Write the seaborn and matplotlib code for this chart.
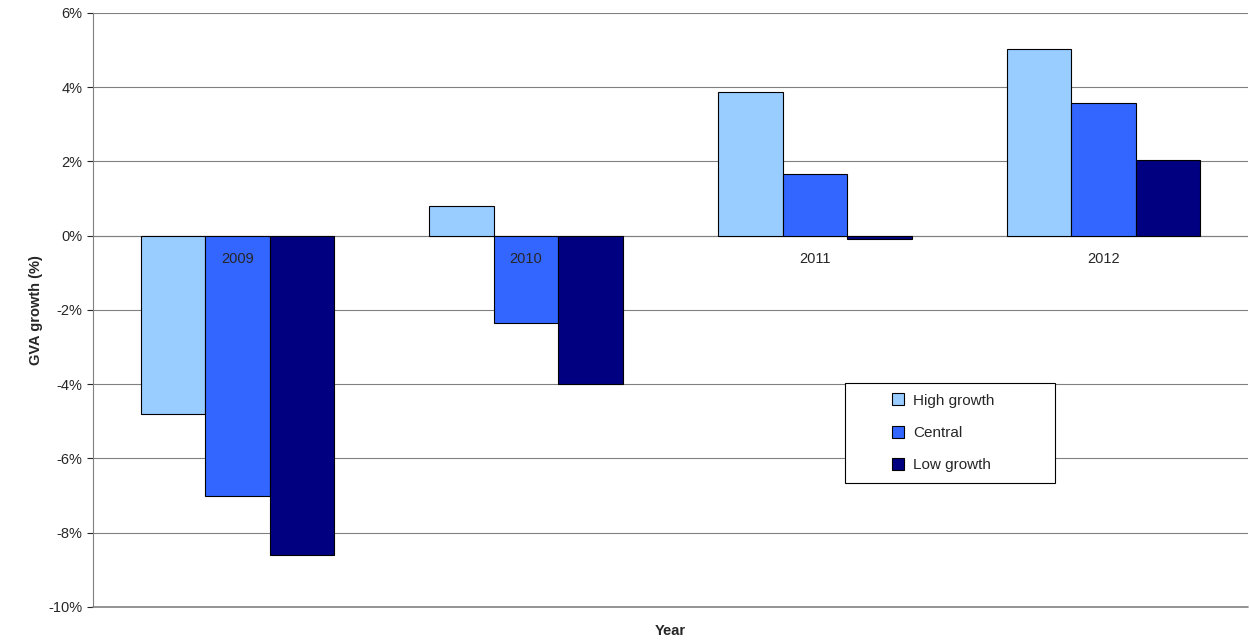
import pandas as pd
import matplotlib.pyplot as plt
import seaborn as sns
from matplotlib.ticker import FuncFormatter
from matplotlib.patches import Rectangle

# Values
years = ['2009', '2010', '2011', '2012']
scenarios = ['High growth', 'Central', 'Low growth']
high_growth = [-4.8, 0.8, 3.88, 5.04]
central = [-7.0, -2.35, 1.65, 3.58]
low_growth = [-8.6, -4.0, -0.08, 2.05]
colors = ['#99CCFF', '#3366FF', '#000080']

df = pd.DataFrame({
    'Year': years * 3,
    'Scenario': [s for s in scenarios for _ in years],
    'Growth': high_growth + central + low_growth,
})

sns.set_style('white')
plt.rcParams['font.family'] = ['Liberation Sans', 'DejaVu Sans']

fig = plt.figure(figsize=(12.5, 6.43), dpi=100)
ax = fig.add_axes([0.0744, 0.056, 0.924, 0.924])

sns.barplot(data=df, x='Year', y='Growth', hue='Scenario', palette=colors,
            width=0.67, edgecolor='black', linewidth=0.8, saturation=1, ax=ax, zorder=3)

ax.set_ylim(-10, 6)
ax.set_xlim(-0.5, 3.5)
ax.set_yticks(range(-10, 7, 2))
ax.yaxis.set_major_formatter(FuncFormatter(lambda v, p: f'{int(v)}%'))
ax.grid(axis='y', color='#808080', linewidth=0.8, zorder=0)
ax.axhline(0, color='#808080', linewidth=0.8, zorder=2)
ax.axhline(-10, color='#808080', linewidth=1.2, zorder=2, clip_on=False)
ax.tick_params(axis='y', labelsize=10.5, length=4, direction='out', left=True)
ax.set_xticks([])

for i, y in enumerate(years):
    ax.text(i, -0.45, y, ha='center', va='top', fontsize=10.5)

for s in ['top', 'right', 'bottom']:
    ax.spines[s].set_visible(False)
ax.spines['left'].set_color('#808080')

ax.set_ylabel('GVA growth (%)', fontsize=10.5, fontweight='bold')
ax.set_xlabel('Year', fontsize=10.5, fontweight='bold', labelpad=12)

# legend box frame
ax.add_patch(Rectangle((0.651, 0.209), 0.182, 0.168, transform=ax.transAxes,
                       facecolor='white', edgecolor='black', linewidth=0.8, zorder=4))
leg = ax.legend(loc='center left', bbox_to_anchor=(0.685, 0.293), fontsize=11,
                frameon=False, borderpad=0, labelspacing=1.2,
                handlelength=0.8, handleheight=0.8, handletextpad=0.6)
leg.set_zorder(5)

fig.savefig('out.png', dpi=100)
